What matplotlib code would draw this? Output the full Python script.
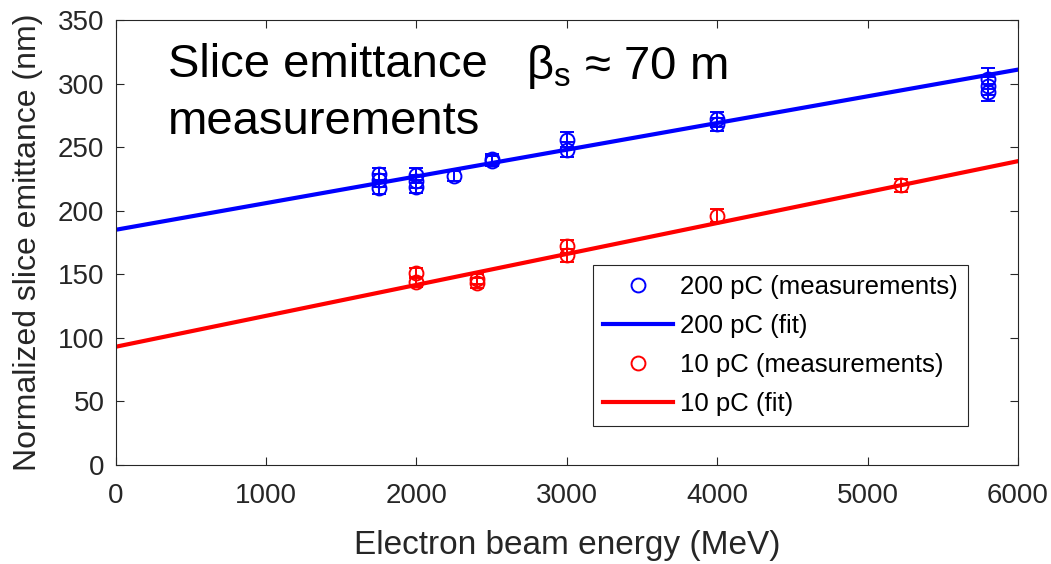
import matplotlib
matplotlib.use("Agg")
import matplotlib.pyplot as plt
from matplotlib.lines import Line2D

plt.rcParams['font.family'] = ['Liberation Sans', 'DejaVu Sans']

# 200 pC slice emittance measurements
blue_x = [1750, 1750, 1750, 2000, 2000, 2000, 2250, 2500, 2500,
          3000, 3000, 4000, 4000, 5800, 5800, 5800]
blue_y = [229, 224, 218, 228, 223, 219, 227, 241, 239,
          256, 248, 272, 268, 304, 298, 293]
blue_err = [5, 5, 5, 6, 5, 5, 4, 4, 4, 6, 6, 6, 5, 8, 7, 7]

# 10 pC slice emittance measurements
red_x = [2000, 2000, 2400, 2400, 3000, 3000, 4000, 5220]
red_y = [151, 144, 146, 143, 172, 165, 196, 220]
red_err = [4, 4, 4, 4, 5, 5, 5, 5]

# linear fits
fit_x = [0, 6000]
blue_fit = [185, 311]
red_fit = [93, 239]

xticks = [0, 1000, 2000, 3000, 4000, 5000, 6000]
yticks = [0, 50, 100, 150, 200, 250, 300, 350]

axcol = '#262626'

fig = plt.figure(figsize=(10.51, 5.64), dpi=100)
ax = fig.add_axes([0.110, 0.1755, 0.8586, 0.789])

ax.errorbar(blue_x, blue_y, yerr=blue_err, fmt='o', color='blue', mfc='none',
            ms=10, mew=1.4, elinewidth=1.4, capsize=5, capthick=1.4)
ax.plot(fit_x, blue_fit, color='blue', lw=3)
ax.errorbar(red_x, red_y, yerr=red_err, fmt='o', color='red', mfc='none',
            ms=10, mew=1.4, elinewidth=1.4, capsize=5, capthick=1.4)
ax.plot(fit_x, red_fit, color='red', lw=3)

ax.set_xlim(0, 6000)
ax.set_ylim(0, 350)
ax.set_xticks(xticks)
ax.set_yticks(yticks)
ax.tick_params(direction='in', top=True, right=True, length=6, width=0.8,
               colors=axcol, labelsize=20)
ax.tick_params(axis='x', pad=13)
ax.tick_params(axis='y', pad=8)
for sp in ax.spines.values():
    sp.set_color(axcol)
    sp.set_linewidth(0.8)

ax.set_xlabel('Electron beam energy (MeV)', fontsize=24, color=axcol, labelpad=15)
ax.set_ylabel('Normalized slice emittance (nm)', fontsize=23, color=axcol, labelpad=11)

# annotations
ax.text(0.058, 0.722, 'Slice emittance\nmeasurements', transform=ax.transAxes,
        fontsize=34, color='black', linespacing=1.37, va='bottom')
ax.text(0.455, 0.84, r'$\mathregular{\beta_s}$ ≈ 70 m', transform=ax.transAxes,
        fontsize=34, color='black', va='bottom')

# legend: markers only for the measurements, thick lines for the fits
handles = [
    Line2D([], [], ls='none', marker='o', mfc='none', mec='blue', ms=10, mew=1.4),
    Line2D([], [], color='blue', lw=3),
    Line2D([], [], ls='none', marker='o', mfc='none', mec='red', ms=10, mew=1.4),
    Line2D([], [], color='red', lw=3),
]
labels = ['200 pC (measurements)', '200 pC (fit)',
          '10 pC (measurements)', '10 pC (fit)']
leg = ax.legend(handles, labels, loc='upper right', bbox_to_anchor=(0.945, 0.449),
                fontsize=18.5, handlelength=2.7, handletextpad=0.3,
                borderpad=0.4, labelspacing=0.58, fancybox=False, framealpha=1,
                borderaxespad=0)
leg.get_frame().set_edgecolor(axcol)
leg.get_frame().set_linewidth(0.8)

fig.savefig('out.png', dpi=100)
